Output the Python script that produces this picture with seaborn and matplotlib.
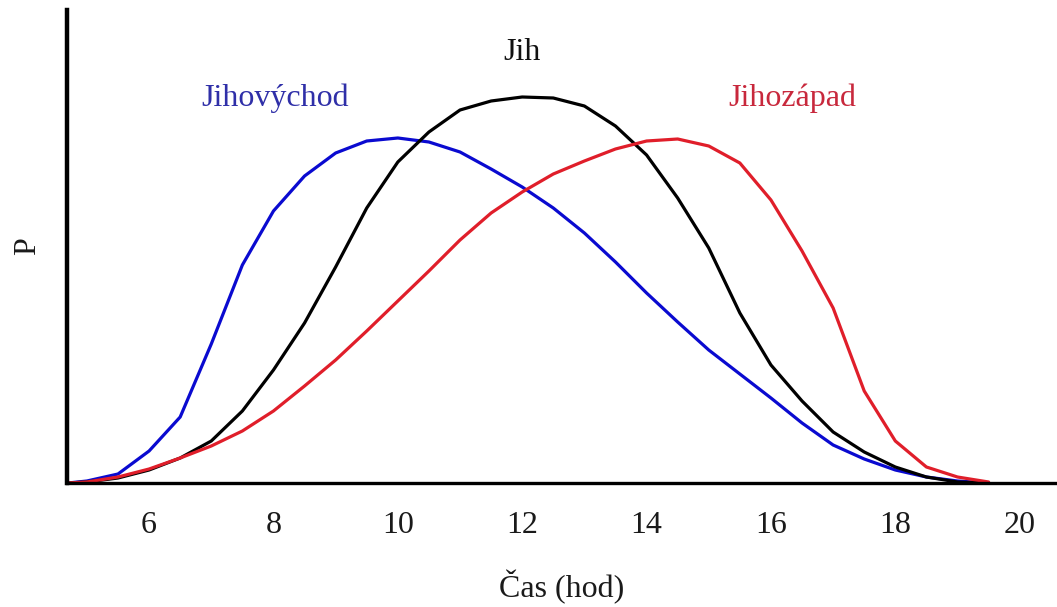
import numpy as np
import pandas as pd
import matplotlib
matplotlib.use("Agg")
import matplotlib.pyplot as plt
import seaborn as sns

# hodiny (x osa)
cas = [4.7, 5.0, 5.5, 6.0, 6.5, 7.0, 7.5, 8.0, 8.5, 9.0, 9.5, 10.0, 10.5, 11.0,
       11.5, 12.0, 12.5, 13.0, 13.5, 14.0, 14.5, 15.0, 15.5, 16.0, 16.5, 17.0,
       17.5, 18.0, 18.5, 19.0, 19.5]

# odhadnute hodnoty P (relativni jednotky)
jihovychod = [0, 2, 9, 32, 66, 139, 218, 272, 307, 330, 342, 345, 341, 331,
              314, 296, 275, 250, 221, 190, 161, 133, 109, 85, 60, 38,
              24, 13, 6, 2, 0]
jih = [0, 1, 5, 13, 25, 42, 72, 113, 160, 216, 275, 321, 351, 373,
       382, 386, 385, 377, 357, 328, 285, 235, 170, 118, 82, 51,
       31, 16, 6, 1, 0]
jihozapad = [0, 1, 6, 14, 25, 37, 52, 72, 97, 123, 152, 182, 212, 243,
             270, 291, 309, 322, 334, 342, 344, 337, 320, 283, 232, 175,
             92, 42, 16, 6, 1]

smery = ["Jihovýchod", "Jih", "Jihozápad"]
barvy = {"Jihovýchod": "#0a0ad0", "Jih": "#000000", "Jihozápad": "#e01e2a"}
barvy_textu = {"Jihovýchod": "#2f2fa8", "Jih": "#111111", "Jihozápad": "#c8283c"}
popisky_x = [6, 8, 10, 12, 14, 16, 18, 20]

df = pd.DataFrame({
    "cas": cas * 3,
    "P": jihovychod + jih + jihozapad,
    "smer": [s for s in smery for _ in cas],
})

sns.set_style("white")
plt.rcParams["font.family"] = ["Liberation Serif", "DejaVu Serif"]

fig = plt.figure(figsize=(10.57, 6.07), dpi=100)
ax = fig.add_axes([67 / 1057, 124 / 607, 990 / 1057, 473 / 607])

sns.lineplot(data=df, x="cas", y="P", hue="smer", palette=barvy,
             linewidth=2.3, legend=False, ax=ax, sort=False)

ax.set_xlim(4.68, 20.6)
ax.set_ylim(0, 473)
ax.set_xticks(popisky_x)
ax.set_yticks([])
ax.tick_params(axis="x", direction="out", length=8, width=2.2,
               labelsize=23, pad=12, colors="#1a1a1a")
for side in ["top", "right"]:
    ax.spines[side].set_visible(False)
ax.spines["left"].set_linewidth(3.2)
ax.spines["bottom"].set_linewidth(2.4)
ax.spines["left"].set_color("black")
ax.spines["bottom"].set_color("black")

ax.set_xlabel("Čas (hod)", fontsize=23, labelpad=22, color="#1a1a1a")
ax.set_ylabel("P", fontsize=23, labelpad=18, color="#1a1a1a")

# popisky krivek
ax.text(8.03, 385, "Jihovýchod", color=barvy_textu["Jihovýchod"],
        fontsize=23, ha="center", va="center")
ax.text(12.0, 430, "Jih", color=barvy_textu["Jih"],
        fontsize=23, ha="center", va="center")
ax.text(16.35, 385, "Jihozápad", color=barvy_textu["Jihozápad"],
        fontsize=23, ha="center", va="center")

plt.savefig("out.png", dpi=100)
